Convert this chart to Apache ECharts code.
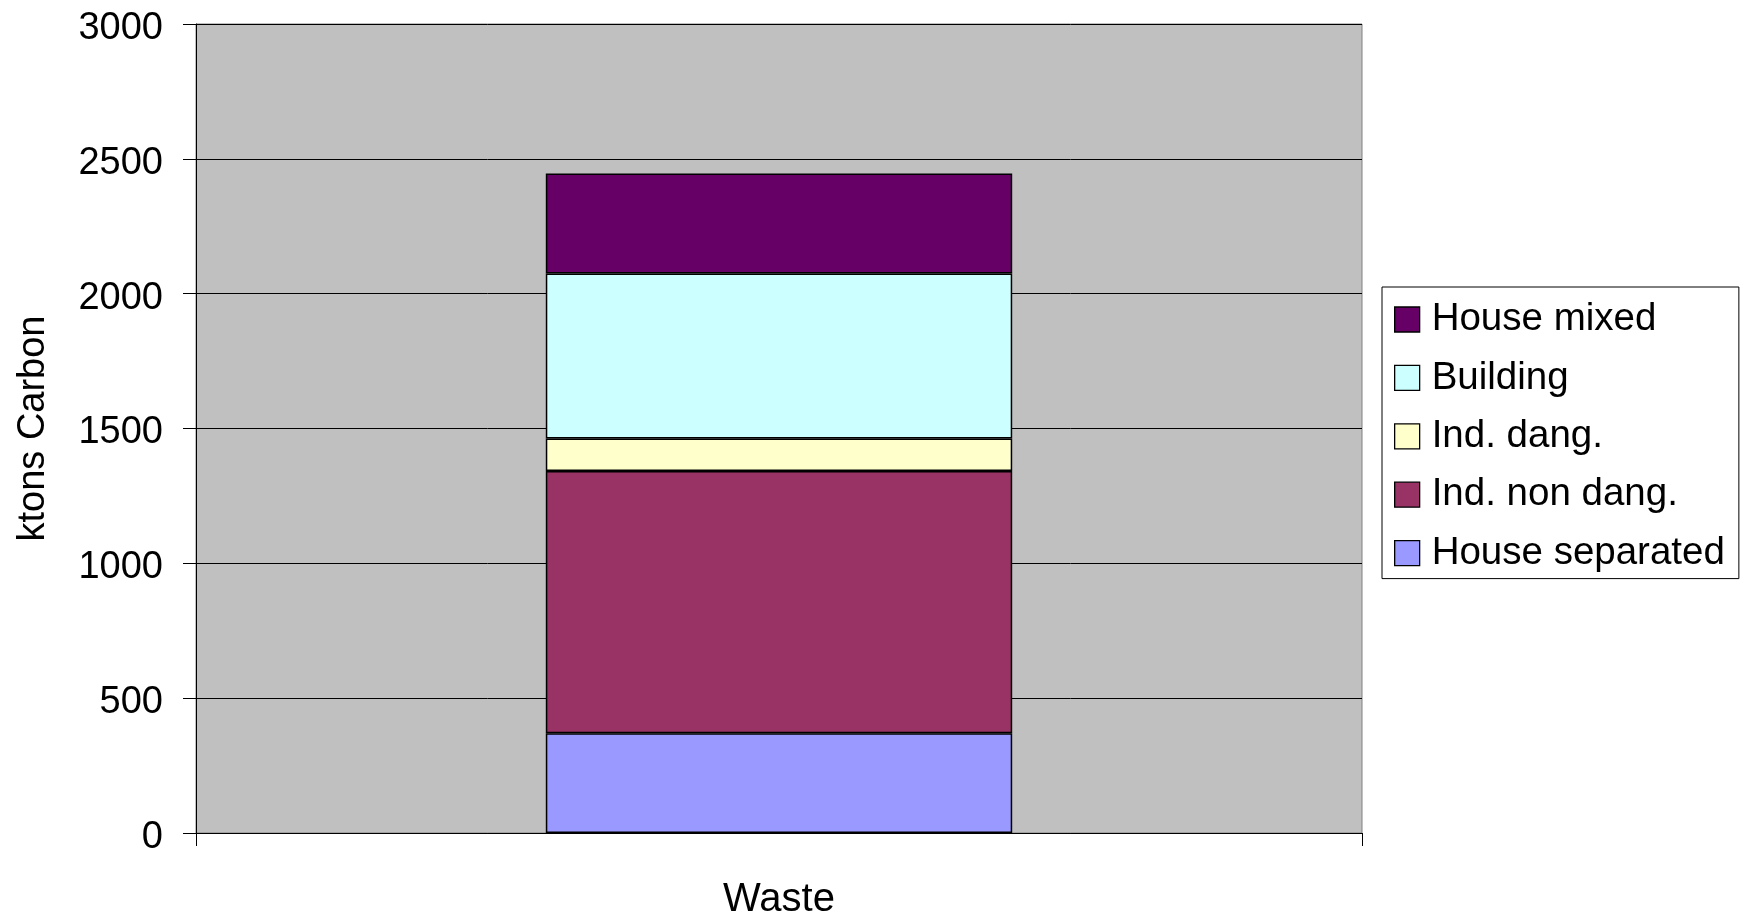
<!DOCTYPE html>
<html>
<head>
<meta charset="utf-8">
<script src="https://cdn.jsdelivr.net/npm/echarts@6/dist/echarts.min.js"></script>
<style>
html,body{margin:0;padding:0;background:#fff;}
#chart{width:1744px;height:920px;}
</style>
</head>
<body>
<div id="chart"></div>
<script>
const categories = ['Waste'];
const seriesNames = ['House separated', 'Ind. non dang.', 'Ind. dang.', 'Building', 'House mixed'];
const houseSeparated = [370];
const indNonDang = [972];
const indDang = [121];
const building = [612];
const houseMixed = [371];
const yTicks = [0, 500, 1000, 1500, 2000, 2500, 3000];
const colors = ['#9999FF', '#993366', '#FFFFCC', '#CCFFFF', '#660066'];

const values = [houseSeparated, indNonDang, indDang, building, houseMixed];
const FONT = "'Liberation Sans', Arial, sans-serif";

const chart = echarts.init(document.getElementById('chart'));
chart.setOption({
  animation: false,
  textStyle: { fontFamily: FONT },
  grid: {
    left: 196, top: 24, width: 1166, height: 812,
    show: true, backgroundColor: '#C0C0C0', borderColor: '#808080', borderWidth: 1
  },
  legend: {
    orient: 'vertical',
    left: 1382, top: 287,
    padding: [13, 14, 6, 12],
    itemGap: 19.4,
    itemWidth: 25, itemHeight: 25,
    icon: 'rect',
    borderColor: '#000', borderWidth: 1, backgroundColor: '#fff',
    data: seriesNames.slice().reverse(),
    itemStyle: { borderColor: '#000', borderWidth: 1.3 },
    textStyle: { fontSize: 38.5, color: '#000', fontFamily: FONT, lineHeight: 38, padding: [0, 0, 0, 7] }
  },
  xAxis: {
    type: 'category',
    data: categories,
    axisLine: { lineStyle: { color: '#000', width: 1 } },
    axisTick: { show: true, length: 13, lineStyle: { color: '#000' } },
    axisLabel: { fontSize: 40, color: '#000', margin: 47, fontFamily: FONT }
  },
  yAxis: {
    type: 'value',
    min: yTicks[0], max: yTicks[yTicks.length - 1], interval: 500,
    name: 'ktons Carbon',
    nameLocation: 'middle',
    nameGap: 143,
    nameTextStyle: { fontSize: 38, color: '#000', fontFamily: FONT },
    axisLine: { show: true, lineStyle: { color: '#000', width: 1 } },
    axisTick: { show: true, length: 13, lineStyle: { color: '#000' } },
    splitLine: { show: true, lineStyle: { color: '#000', width: 1 } },
    axisLabel: {
      color: '#000', margin: 33, fontFamily: FONT,
      formatter: (v) => '{a|' + v + '}',
      rich: { a: { fontSize: 38, color: '#000', fontFamily: FONT, padding: [9, 0, 0, 0] } }
    }
  },
  series: seriesNames.map((name, i) => ({
    name: name,
    type: 'bar',
    stack: 'total',
    barWidth: '40%',
    data: values[i],
    itemStyle: { color: colors[i], borderColor: '#000', borderWidth: 1.5 }
  }))
});
</script>
</body>
</html>
